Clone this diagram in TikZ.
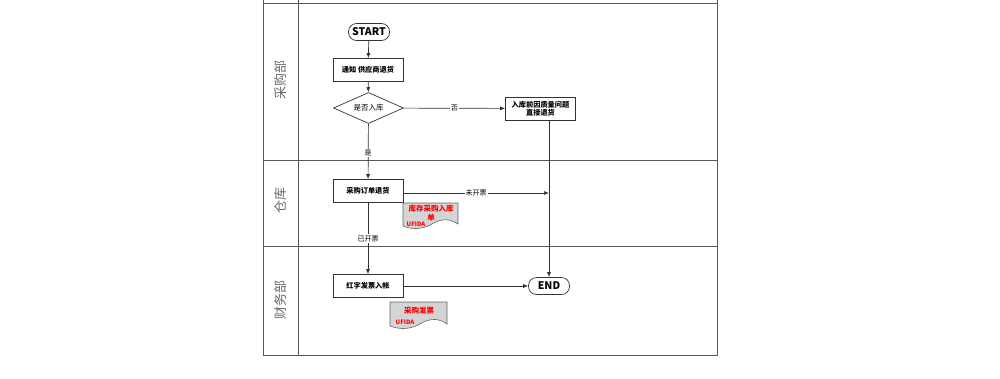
\documentclass[tikz,border=0pt]{standalone}
\usepackage{fontspec}
\setmainfont{Noto Sans CJK SC}
\usetikzlibrary{arrows.meta,shapes.geometric}
\begin{document}
\begin{tikzpicture}[x=1pt,y=-1pt,
  lane/.style={draw=black!65,line width=0.9pt},
  procbox/.style={draw=black!80,line width=0.7pt,fill=white,minimum width=70pt,minimum height=23pt,inner sep=1pt,font=\fontsize{7.2}{8.5}\selectfont\bfseries,align=center},
  term/.style={draw=black!80,line width=0.7pt,fill=white,rounded corners=8pt,minimum width=41pt,minimum height=17pt,inner sep=1pt,font=\fontsize{10.5}{12}\selectfont\bfseries},
  decision/.style={draw=black!80,line width=0.7pt,fill=white,diamond,aspect=2.2,minimum width=70pt,minimum height=31pt,inner sep=0pt,font=\fontsize{7.5}{8.5}\selectfont},
  conn/.style={draw=black!80,line width=0.7pt,-{Latex[length=5pt,width=4pt]}},
  lbl/.style={fill=white,inner sep=1pt,font=\fontsize{7}{8}\selectfont},
  lanelbl/.style={rotate=90,text=black!60,font=\fontsize{13}{14}\selectfont},
  doctxt/.style={text=red,font=\fontsize{7.5}{8.5}\selectfont\bfseries,align=center,inner sep=0pt},
  docsmall/.style={text=red,font=\fontsize{6}{7}\selectfont\bfseries,inner sep=0pt},
  docshape/.style={draw=black!60,line width=0.6pt,fill=black!17}
]
\useasboundingbox (0,0) rectangle (1000,378);
% swimlane frame
\draw[lane] (263,0) -- (263,355) -- (717,355) -- (717,0);
\draw[lane] (298,0) -- (298,355);
\draw[lane] (263,3) -- (717,3);
\draw[lane] (263,160) -- (717,160);
\draw[lane] (263,246) -- (717,246);
\node[lanelbl] (l1) at (281,80) {采购部};
\node[lanelbl] (l2) at (281,200) {仓库};
\node[lanelbl] (l3) at (281,300) {财务部};
% nodes
\node[term] (start) at (369,32) {START};
\node[procbox] (notify) at (368,70) {通知 供应商退货};
\node[decision] (dec) at (368.5,108) {是否入库};
\node[procbox] (ret) at (540.5,108.5) {入库前因质量问题\\直接退货};
\node[procbox] (order) at (368,191) {采购订单退货};
\node[procbox] (red) at (368,286) {红字发票入帐};
\node[term] (end) at (549,286) {END};
\coordinate (c1) at (549,193);
% documents
\draw[docshape] (403,203) -- (458,203) -- (458,224)
  .. controls (446,216) and (437,221) .. (430,225)
  .. controls (420,230) and (410,229) .. (403,226) -- cycle;
\node[doctxt] (d1t) at (431,213) {库存采购入库\\单};
\node[docsmall] (d1s) at (416,224) {UFIDA};
\draw[docshape] (390,302) -- (447,302) -- (447,324)
  .. controls (436,316) and (426,320) .. (418,325)
  .. controls (408,330) and (398,329) .. (390,326) -- cycle;
\node[doctxt] (d2t) at (419,311) {采购发票};
\node[docsmall] (d2s) at (405,322) {UFIDA};
% connectors
\draw[conn] (start) -- (notify);
\draw[conn] (notify) -- (dec);
\draw[conn] (dec) -- node[lbl,pos=0.52] {是} (order);
\draw[conn] (dec) -- node[lbl,pos=0.5] {否} (ret);
\draw[conn] (order) -- node[lbl,pos=0.5] {已开票} (red);
\draw[conn] (ret.south -| end) -- (end);
\draw[conn] (order.east |- c1) -- node[lbl,pos=0.5] {未开票} (c1);
\draw[conn] (red) -- (end);
\end{tikzpicture}
\end{document}
